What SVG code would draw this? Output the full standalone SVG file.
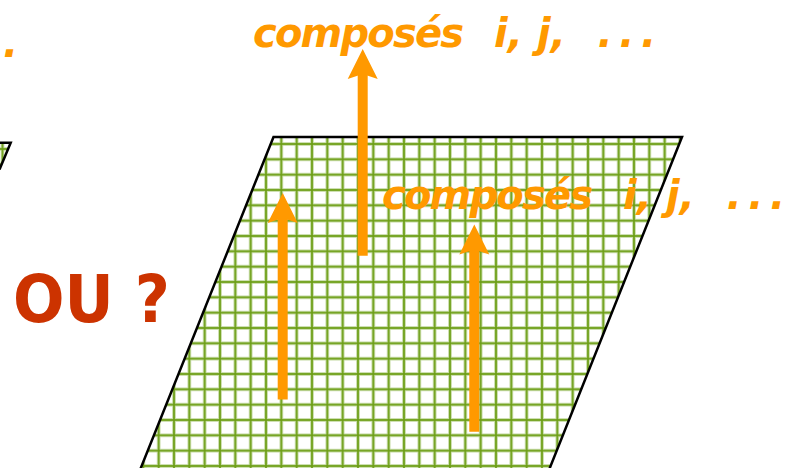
<svg xmlns="http://www.w3.org/2000/svg" width="800" height="468" viewBox="0 0 800 468">
  <style>
    .lbl { font-family: "DejaVu Sans", "Liberation Sans", sans-serif; font-weight: bold; font-style: oblique; font-size: 40px; fill: #ff9900; }
    .dots { letter-spacing: 6.6px; }
    .ou { font-family: "DejaVu Sans", "Liberation Sans", sans-serif; font-weight: bold; font-size: 65px; fill: #cc3300; }
    .edge { fill: none; stroke: #000; stroke-width: 2.5; stroke-linejoin: miter; }
    .arrow { stroke: #ff9900; stroke-width: 10; fill: none; marker-end: url(#head); }
    .gl { stroke: #c4daa2; stroke-width: 3.6; }
    .gd { stroke: #6d9e16; stroke-width: 1.7; }
  </style>
  <defs>
    <pattern id="grid" patternUnits="userSpaceOnUse" x="258.33" y="136.33" width="15.333" height="15.333">
      <line class="gl" x1="7.667" y1="0" x2="7.667" y2="15.333"/>
      <line class="gl" x1="0" y1="7.667" x2="15.333" y2="7.667"/>
      <line class="gd" x1="7.667" y1="0" x2="7.667" y2="15.333"/>
      <line class="gd" x1="0" y1="7.667" x2="15.333" y2="7.667"/>
    </pattern>
    <pattern id="grid2" patternUnits="userSpaceOnUse" x="-5.17" y="141.33" width="15.333" height="15.333">
      <line class="gl" x1="7.667" y1="0" x2="7.667" y2="15.333"/>
      <line class="gl" x1="0" y1="7.667" x2="15.333" y2="7.667"/>
      <line class="gd" x1="7.667" y1="0" x2="7.667" y2="15.333"/>
      <line class="gd" x1="0" y1="7.667" x2="15.333" y2="7.667"/>
    </pattern>
    <marker id="head" markerUnits="userSpaceOnUse" markerWidth="32" markerHeight="32" viewBox="0 0 32 32" refX="8" refY="16" orient="auto">
      <path d="M30,16 L0,1 L5,16 L0,31 Z" fill="#ff9900"/>
    </marker>
  </defs>

  <rect width="800" height="468" fill="#fff"/>

  <g id="plane-left">
    <polygon points="-30,142.7 10.7,142.7 -20,215" fill="url(#grid2)"/>
    <polyline class="edge" points="-5,142.7 10.7,142.7 -0.5,169.5"/>
  </g>

  <g id="plane">
    <polygon points="273.5,137 682,137 545,480 136,480" fill="#fff"/>
    <polygon points="273.5,137 682,137 545,480 136,480" fill="url(#grid)"/>
    <polygon class="edge" points="273.5,137 682,137 545,480 136,480"/>
  </g>

  <g id="connectors">
    <line class="arrow" x1="282.7" y1="399.5" x2="282.7" y2="215"/>
    <line class="arrow" x1="362.7" y1="255.7" x2="362.7" y2="71"/>
    <line class="arrow" x1="474.3" y1="431.7" x2="474.3" y2="246.5"/>
  </g>

  <g id="label-left">
    <text class="lbl" x="3" y="57">.</text>
  </g>

  <g id="label-top">
    <text class="lbl" x="253" y="47" dx="0 -1.8 -1.8 -1.8 -1.8 -1.8 -1.8 -1.8">composés</text>
    <text class="lbl" x="494" y="47">i,</text>
    <text class="lbl" x="537" y="47">j,</text>
    <text class="lbl dots" x="597.4" y="47">...</text>
  </g>

  <g id="label-mid">
    <text class="lbl" x="382" y="209" dx="0 -1.8 -1.8 -1.8 -1.8 -1.8 -1.8 -1.8">composés</text>
    <text class="lbl" x="623" y="209">i,</text>
    <text class="lbl" x="666" y="209">j,</text>
    <text class="lbl dots" x="726.4" y="209">...</text>
  </g>

  <g id="label-ou">
    <text class="ou" x="13" y="322" textLength="157" lengthAdjust="spacingAndGlyphs">OU ?</text>
  </g>
</svg>
